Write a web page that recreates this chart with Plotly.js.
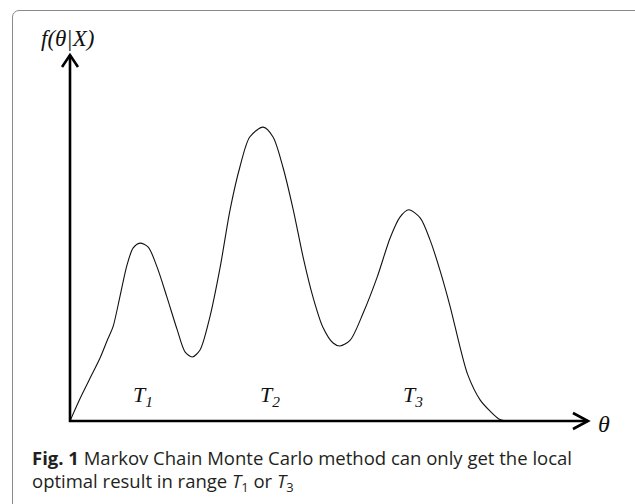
<!DOCTYPE html>
<html>
<head>
<meta charset="utf-8">
<script src="https://cdn.plot.ly/plotly-3.0.1.min.js"></script>
<style>
  html, body { margin: 0; padding: 0; background: #fff; }
  #wrap { position: relative; width: 635px; height: 504px; overflow: hidden; }
  #frame { position: absolute; left: 12px; top: 10px; width: 640px; height: 560px;
           border: 1.5px solid #8a8a8a; border-radius: 7px; box-sizing: border-box; }
  #chart { position: absolute; left: 0; top: 0; width: 635px; height: 504px; }
</style>
</head>
<body>
<div id="wrap">
  <div id="frame"></div>
  <div id="chart"></div>
</div>
<script>
// Posterior density curve (theta in arbitrary units 0..100, density 0..100)
const theta = [0, 1.9, 3.7, 5.8, 7.3, 8.3, 9.7, 11.0, 12.2, 13.5, 15.1, 16.8, 18.7, 20.7, 22.2, 23.6,
  25.1, 27.0, 29.0, 30.9, 32.8, 34.7, 37.3, 39.2, 41.1, 43.1, 45.0, 46.9, 48.8, 50.8, 52.1,
  54.1, 56.6, 59.3, 61.8, 63.7, 65.4, 67.6, 69.5, 71.4, 73.4, 75.3, 76.8, 79.2, 81.1, 83.0, 84.9];
const density = [0, 6.0, 11.2, 17.2, 22.4, 25.7, 34.4, 42.6, 47.3, 48.6, 47.5, 42.1, 33.9, 24.9, 18.9, 17.5,
  19.4, 28.4, 42.1, 57.7, 69.4, 77.6, 80.3, 77.6, 69.4, 57.7, 44.8, 33.9, 25.7, 21.3, 20.5,
  22.1, 29.5, 39.3, 50.0, 55.7, 57.7, 55.5, 49.5, 41.3, 31.2, 20.2, 12.6, 5.7, 2.7, 0.4, 0];

// Range labels and their positions on the theta axis
const rangeLabels = ['<i>T<sub>1</sub></i>', '<i>T<sub>2</sub></i>', '<i>T<sub>3</sub></i>'];
const rangeX = [14.0, 38.6, 66.2];
const yLabel = '<i>f(θ|X)</i>';
const xLabel = '<i>θ</i>';
const captionLine1 = '<b>Fig. 1</b> Markov Chain Monte Carlo method can only get the local';
const captionLine2 = 'optimal result in range <i>T</i><sub>1</sub> or <i>T</i><sub>3</sub>';

const serif = 'Liberation Serif, Times New Roman, serif';
const sans = 'Open Sans, Noto Sans, sans-serif';

const trace = {
  x: theta, y: density, type: 'scatter', mode: 'lines',
  line: { color: '#111', width: 1.1, shape: 'spline', smoothing: 0.8 },
  hoverinfo: 'skip'
};

const annotations = rangeLabels.map((t, i) => ({
  x: rangeX[i], y: 6.8, xref: 'x', yref: 'y', text: t, showarrow: false,
  font: { family: serif, size: 22, color: '#111' }, xanchor: 'center', yanchor: 'middle'
}));
annotations.push({ x: -0.004, y: 1.044, xref: 'paper', yref: 'paper', text: yLabel, showarrow: false,
  font: { family: serif, size: 23, color: '#111' }, xanchor: 'center', yanchor: 'middle' });
annotations.push({ x: 1.031, y: -0.008, xref: 'paper', yref: 'paper', text: xLabel, showarrow: false,
  font: { family: serif, size: 24, color: '#111' }, xanchor: 'center', yanchor: 'middle' });
annotations.push({ x: -0.0772, y: -0.101, xref: 'paper', yref: 'paper', showarrow: false,
  text: captionLine1, align: 'left',
  font: { family: sans, size: 18.5, color: '#231f20' }, xanchor: 'left', yanchor: 'middle' });
annotations.push({ x: -0.0772, y: -0.1667, xref: 'paper', yref: 'paper', showarrow: false,
  text: captionLine2, align: 'left',
  font: { family: sans, size: 18.5, color: '#231f20' }, xanchor: 'left', yanchor: 'middle' });

// Axes with open arrowheads (paper coordinates: plot area is 518 x 366 px)
const axisStyle = { color: '#000', width: 2.6 };
const shapes = [
  { type: 'path', xref: 'paper', yref: 'paper', path: 'M 0,1 L 0,0 L 1,0', line: axisStyle },
  { type: 'path', xref: 'paper', yref: 'paper', path: 'M 0.971,0.0219 L 1,0 L 0.971,-0.0219', line: axisStyle },
  { type: 'path', xref: 'paper', yref: 'paper', path: 'M -0.0154,0.967 L 0,1 L 0.0154,0.967', line: axisStyle }
];

const layout = {
  width: 635, height: 504,
  margin: { l: 70, r: 47, t: 55, b: 83 },
  paper_bgcolor: 'rgba(0,0,0,0)', plot_bgcolor: 'rgba(0,0,0,0)',
  showlegend: false,
  xaxis: { range: [0, 100], visible: false, fixedrange: true },
  yaxis: { range: [0, 100], visible: false, fixedrange: true },
  annotations: annotations,
  shapes: shapes
};

Plotly.newPlot('chart', [trace], layout, { displayModeBar: false, staticPlot: true });
</script>
</body>
</html>
